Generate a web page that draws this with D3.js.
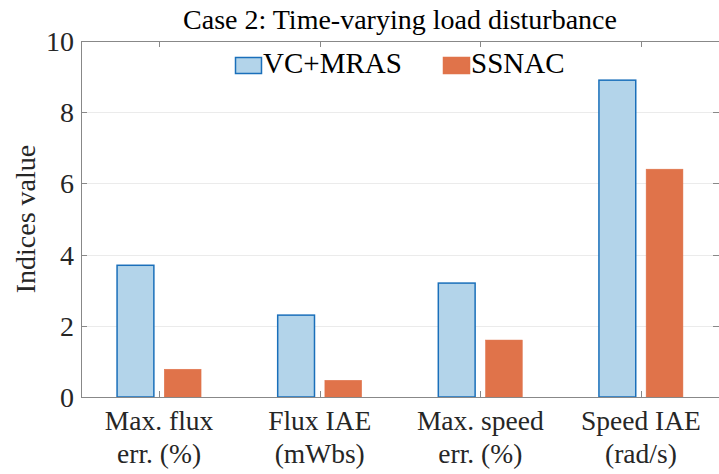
<!DOCTYPE html>
<html>
<head>
<meta charset="utf-8">
<script src="https://cdn.jsdelivr.net/npm/d3@7"></script>
<style>
  body { margin: 0; background: #fff; }
  text { font-family: 'Liberation Serif', 'DejaVu Serif', serif; }
</style>
</head>
<body>
<svg id="chart"></svg>
<script>
// Datos
const categories = [['Max. flux', 'err. (%)'], ['Flux IAE', '(mWbs)'], ['Max. speed', 'err. (%)'], ['Speed IAE', '(rad/s)']];
const seriesNames = ['VC+MRAS', 'SSNAC'];
const vcMras = [3.7, 2.3, 3.2, 8.9];
const ssnac = [0.78, 0.47, 1.6, 6.4];
const yTicks = [0, 2, 4, 6, 8, 10];
const title = 'Case 2: Time-varying load disturbance';
const yLabel = 'Indices value';

const width = 719, height = 474;
const margin = { top: 41, right: 0, bottom: 77, left: 81 };
const fills = { 'VC+MRAS': '#b3d4ea', 'SSNAC': '#e0734a' };
const strokes = { 'VC+MRAS': '#1a6fba', 'SSNAC': '#e0734a' };
const axisColor = '#888';
const textColor = '#262626';
const serif = "'Liberation Serif', 'DejaVu Serif', serif";

const svg = d3.select('#chart').attr('width', width).attr('height', height)
  .attr('font-family', serif);

const catKeys = categories.map(c => c.join(' '));
const x = d3.scalePoint().domain(catKeys).range([margin.left, width - margin.right]).padding(0.486);
const xInner = d3.scaleBand().domain(seriesNames).range([-42, 42]).paddingInner(0.22);
const y = d3.scaleLinear().domain([0, 10]).range([height - margin.bottom, margin.top]);

const x0 = margin.left, x1 = width + 1;
const yTop = y(10), yBot = y(0);

// Grid
svg.append('g').selectAll('line').data(yTicks.slice(1, -1)).join('line')
  .attr('x1', x0).attr('x2', x1)
  .attr('y1', d => Math.round(y(d)) + 0.5).attr('y2', d => Math.round(y(d)) + 0.5)
  .attr('stroke', '#ebebeb').attr('stroke-width', 1);

// Barras
const rows = catKeys.map((k, i) => ({ key: k, values: [vcMras[i], ssnac[i]] }));
const groups = svg.append('g').selectAll('g').data(rows).join('g')
  .attr('transform', d => `translate(${x(d.key)},0)`);
groups.selectAll('rect').data(d => seriesNames.map((s, j) => ({ s, v: d.values[j] }))).join('rect')
  .attr('x', d => xInner(d.s))
  .attr('width', xInner.bandwidth())
  .attr('y', d => y(d.v))
  .attr('height', d => y(0) - y(d.v))
  .attr('fill', d => fills[d.s])
  .attr('stroke', d => strokes[d.s])
  .attr('stroke-width', d => d.s === 'VC+MRAS' ? 1.5 : 0.5);

// Ejes
const axes = svg.append('g').attr('stroke', axisColor).attr('stroke-width', 1).attr('fill', 'none');
axes.append('path').attr('d', `M${x0 + 0.5},${yTop + 0.5}V${yBot + 0.5}H${x1}M${x0 + 0.5},${yTop + 0.5}H${x1}`);
yTicks.forEach(t => {
  const yy = Math.round(y(t)) + 0.5;
  axes.append('line').attr('x1', x0).attr('x2', x0 + 6).attr('y1', yy).attr('y2', yy);
  axes.append('line').attr('x1', width - 6).attr('x2', width).attr('y1', yy).attr('y2', yy);
});
catKeys.forEach(k => {
  const xx = Math.round(x(k)) + 0.5;
  axes.append('line').attr('x1', xx).attr('x2', xx).attr('y1', yBot).attr('y2', yBot - 6);
  axes.append('line').attr('x1', xx).attr('x2', xx).attr('y1', yTop).attr('y2', yTop + 6);
});

// Etiquetas eje y
svg.append('g').selectAll('text').data(yTicks).join('text')
  .attr('font-family', serif)
  .attr('x', x0 - 7).attr('y', d => y(d) + 10)
  .attr('text-anchor', 'end').attr('font-size', 28).attr('fill', textColor)
  .text(d => d);

// Etiquetas categorías
const catText = svg.append('g').selectAll('text').data(categories).join('text')
  .attr('font-family', serif)
  .attr('text-anchor', 'middle').attr('font-size', 27.5).attr('fill', textColor)
  .attr('transform', (d, i) => `translate(${x(catKeys[i])},0)`);
catText.selectAll('tspan').data(d => d).join('tspan')
  .attr('x', 0).attr('y', (d, i) => 430 + i * 33).text(d => d);

// Título eje y
svg.append('text')
  .attr('font-family', serif)
  .attr('transform', `translate(35,${(yTop + yBot) / 2}) rotate(-90)`)
  .attr('text-anchor', 'middle').attr('font-size', 28).attr('fill', textColor)
  .text(yLabel);

// Título
svg.append('text')
  .attr('font-family', serif)
  .attr('x', 400).attr('y', 29)
  .attr('text-anchor', 'middle').attr('font-size', 28).attr('fill', '#000')
  .text(title);

// Leyenda
const legendItems = [{ s: 'VC+MRAS', x: 235 }, { s: 'SSNAC', x: 443 }];
const legend = svg.append('g');
legendItems.forEach(it => {
  legend.append('rect').attr('x', it.x + 0.5).attr('y', 57.5).attr('width', 26).attr('height', 16)
    .attr('fill', fills[it.s]).attr('stroke', strokes[it.s]).attr('stroke-width', 1.5);
  legend.append('text').attr('font-family', serif)
    .attr('x', it.x + 28).attr('y', 73).attr('font-size', 29).attr('fill', '#000')
    .text(it.s);
});
</script>
</body>
</html>
